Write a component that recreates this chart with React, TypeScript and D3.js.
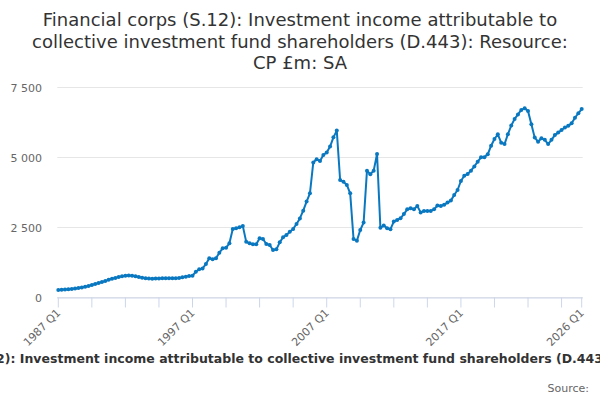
import React from "react";
import * as d3 from "d3";

const title = [
  "Financial corps (S.12): Investment income attributable to",
  "collective investment fund shareholders (D.443): Resource:",
  "CP £m: SA",
];
const seriesName =
  "Financial corps (S.12): Investment income attributable to collective investment fund shareholders (D.443): Resource: CP £m: SA";

const startYear = 1987;
const yTicks = [0, 2500, 5000, 7500];
const labelYears = ["1987 Q1", "1997 Q1", "2007 Q1", "2017 Q1", "2026 Q1"];

// quarterly values, 1987 Q1 .. 2026 Q1
const values = [
  265, 275, 285, 295, 305, 320, 340, 360, 385, 410,
  445, 480, 515, 550, 590, 630, 670, 700, 730, 755,
  775, 790, 780, 760, 730, 705, 685, 675, 670, 675,
  680, 690, 690, 685, 685, 690, 700, 720, 745, 770,
  780, 920, 1005, 1040, 1195, 1400, 1365, 1400, 1600, 1755,
  1780, 1935, 2445, 2470, 2510, 2550, 1995, 1935, 1900, 1900,
  2115, 2090, 1910, 1875, 1695, 1720, 1970, 2150, 2235, 2350,
  2450, 2625, 2825, 3100, 3425, 3720, 4825, 4935, 4875, 5090,
  5180, 5390, 5720, 5960, 4195, 4135, 4020, 3720, 2090, 2030,
  2410, 2675, 4530, 4400, 4530, 5125, 2495, 2570, 2475, 2440,
  2710, 2770, 2830, 2980, 3150, 3190, 3150, 3270, 3040, 3090,
  3090, 3090, 3150, 3285, 3270, 3310, 3390, 3460, 3660, 3840,
  4160, 4350, 4410, 4530, 4680, 4850, 5005, 5005, 5115, 5420,
  5660, 5830, 5530, 5480, 5830, 6140, 6375, 6540, 6700, 6755,
  6660, 6190, 5710, 5565, 5685, 5630, 5480, 5630, 5800, 5890,
  5980, 6070, 6130, 6220, 6420, 6580, 6730,
];

const labelOf = (i: number) =>
  `${startYear + Math.floor(i / 4)} Q${(i % 4) + 1}`;

const W = 600;
const H = 400;
const left = 58.3;
const right = 581.7;
const top = 87.5;
const bottom = 297.5;
const color = "#0a78c0";

export default function App() {
  const n = values.length;
  const x = d3.scaleLinear().domain([0, n - 1]).range([left, right]);
  const y = d3.scaleLinear().domain([0, 7500]).range([bottom, top]);
  const line = d3
    .line<number>()
    .x((_, i) => x(i))
    .y((d) => y(d));

  const tickIdx = d3.range(0, n, 10).concat([n - 1]);
  const labelIdx = d3.range(n).filter((i) => labelYears.includes(labelOf(i)));

  return (
    <svg
      width={W}
      height={H}
      style={{ position: "absolute", left: 0, top: 0, fontFamily: "'DejaVu Sans', sans-serif" }}
    >
      <rect width={W} height={H} fill="#fff" />
      {title.map((t, i) => (
        <text key={i} x={W / 2} y={26 + i * 21.5} textAnchor="middle" fontSize={18} fill="#333">
          {t}
        </text>
      ))}
      {yTicks.map((t) => (
        <g key={t}>
          <line x1={left - 1} x2={right + 1} y1={y(t)} y2={y(t)} stroke="#e6e6e6" />
          <text x={42} y={y(t) + 4} textAnchor="end" fontSize={11} fill="#666">
            {d3.format(",")(t).replace(",", " ")}
          </text>
        </g>
      ))}
      <line x1={left - 1} x2={right + 1} y1={bottom + 0.5} y2={bottom + 0.5} stroke="#ccd6eb" />
      {tickIdx.map((i) => (
        <line key={i} x1={x(i)} x2={x(i)} y1={bottom} y2={bottom + 10} stroke="#ccd6eb" />
      ))}
      {labelIdx.map((i) => (
        <text
          key={i}
          transform={`translate(${x(i) + 3},${bottom + 16}) rotate(-45)`}
          textAnchor="end"
          fontSize={11}
          fill="#666"
        >
          {labelOf(i)}
        </text>
      ))}
      <path d={line(values) || ""} fill="none" stroke={color} strokeWidth={2} strokeLinejoin="round" />
      {values.map((v, i) => (
        <circle key={i} cx={x(i)} cy={y(v)} r={2} fill={color} />
      ))}
      <text x={311} y={363} textAnchor="middle" fontSize={12.5} fontWeight="bold" fill="#333">
        {seriesName}
      </text>
      <text x={589} y={392} textAnchor="end" fontSize={11} fill="#666">
        Source:
      </text>
    </svg>
  );
}
